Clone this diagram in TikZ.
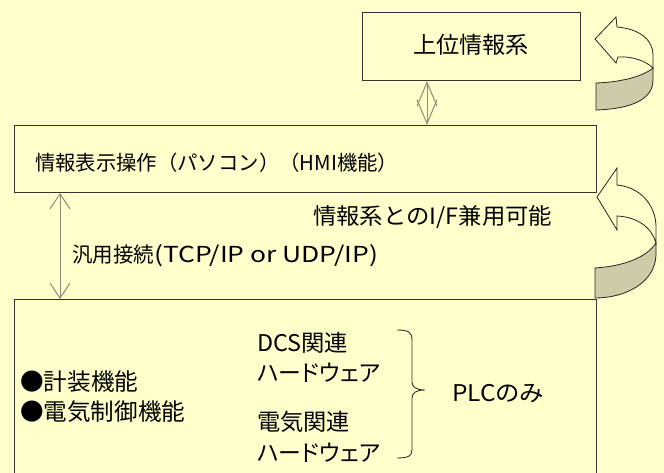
\documentclass[tikz,border=0pt]{standalone}
\usepackage{fontspec}
\setmainfont{Noto Sans CJK JP}
\newfontfamily\pf{Noto Sans CJK JP}[RawFeature=+palt]
\usetikzlibrary{arrows.meta}
\definecolor{bg}{HTML}{FFFFCC}
\definecolor{band}{HTML}{CCCCA8}
\definecolor{edge}{HTML}{333333}
\definecolor{conncol}{HTML}{8C8C78}
\tikzset{
  box/.style={draw=edge, line width=1pt, fill=bg, rectangle, anchor=north west, inner sep=0pt},
  lbl/.style={anchor=west, inner sep=0pt, text=black},
  conn/.style={draw=conncol, line width=1pt},
  curvearrow/.style={draw=black!85, line width=0.8pt, line join=miter},
}
\newcommand{\fs}[1]{\fontsize{#1}{#1}\selectfont}
\newsavebox\fitbox
% \fitw{target width}{font size}{text}
\newcommand{\fitw}[3]{%
  \sbox\fitbox{\fs{#2}#3}%
  \dimen0=\wd\fitbox
  \pgfmathsetmacro\fitsx{#1/\the\dimen0}%
  \scalebox{\fitsx}[1]{\usebox\fitbox}}
\begin{document}
\begin{tikzpicture}[x=1pt,y=-1pt]
\fill[bg] (0,0) rectangle (664,473);
\useasboundingbox (0,0) rectangle (664,473);
\clip (0,0) rectangle (664,473);

% boxes
\node[box, minimum width=218pt, minimum height=68pt] (top) at (362,12) {};
\node[box, minimum width=582pt, minimum height=67pt] (mid) at (14,125) {};
\node[box, minimum width=582pt, minimum height=200pt] (bot) at (14,299) {};

% texts
\node[anchor=center, inner sep=0pt] (ttop) at (471,45) {\fitw{116}{23}{上位情報系}};
\node[lbl] (tmid) at (35,163) {\fitw{122}{20.5}{情報表示操作}\fitw{241}{20.5}{（パソコン）（HMI機能）}};
\node[lbl] (tif) at (313,217) {\fitw{239}{22.5}{情報系とのI/F兼用可能}};
\node[lbl] (tgen) at (72,256) {\fitw{82}{21}{汎用接続}\fitw{224}{22}{(TCP/IP or UDP/IP)}};
\node[lbl] (tk1) at (20,382) {\fitw{118}{23.5}{●計装機能}};
\node[lbl] (tk2) at (20,412) {\fitw{165}{23.5}{●電気制御機能}};
\node[lbl] (td1) at (257,343) {\fitw{91}{23}{DCS関連}};
\node[lbl] (td2) at (257,373) {\fitw{123}{23}{\pf ハードウェア}};
\node[lbl] (te1) at (257,422) {\fitw{93}{23}{電気関連}};
\node[lbl] (te2) at (257,453) {\fitw{123}{23}{\pf ハードウェア}};
\node[lbl] (tplc) at (452,394) {\fitw{91}{23}{\pf PLCのみ}};

% vertical double arrows
\coordinate (ax1) at (427,0);
\coordinate (ax2) at (60,0);
\draw[conn, {Straight Barb[length=24pt,width=20pt]}-{Straight Barb[length=24pt,width=20pt]}]
  (ax1 |- top.south) -- (ax1 |- mid.north);
\draw[conn, {Straight Barb[length=15pt,width=20pt]}-{Straight Barb[length=15pt,width=20pt]}]
  (ax2 |- mid.south) -- (ax2 |- bot.north);

% brace
\draw[draw=edge, line width=0.9pt]
  (397,330) .. controls (408,330) and (412,332) .. (412,340) -- (412,382)
  .. controls (412,387) and (416,390) .. (425,390)
  .. controls (416,390) and (412,393) .. (412,398) -- (412,450)
  .. controls (412,456) and (408,458) .. (397,458);

% curved arrow 1
\filldraw[curvearrow, fill=bg]
  (595,39) -- (616,17) -- (617,27) .. controls (640,29) and (653,40) .. (653,55)
  -- (653,68) .. controls (646,61) and (632,56) .. (618,57) -- (616,63) -- cycle;
\filldraw[curvearrow, fill=band]
  (596,83) .. controls (625,82) and (645,75) .. (653,68) -- (653,80)
  .. controls (653,100) and (630,109) .. (596,110) -- cycle;

% curved arrow 2
\filldraw[curvearrow, fill=bg]
  (597,197) -- (617,168) -- (617,185) .. controls (640,187) and (656,205) .. (656,227)
  -- (656,243) .. controls (652,228) and (638,217) .. (617,216) -- (617,230) -- cycle;
\filldraw[curvearrow, fill=band]
  (595,268) .. controls (625,266) and (647,257) .. (656,243) -- (656,255)
  .. controls (655,283) and (625,298) .. (595,298) -- cycle;
\end{tikzpicture}
\end{document}
